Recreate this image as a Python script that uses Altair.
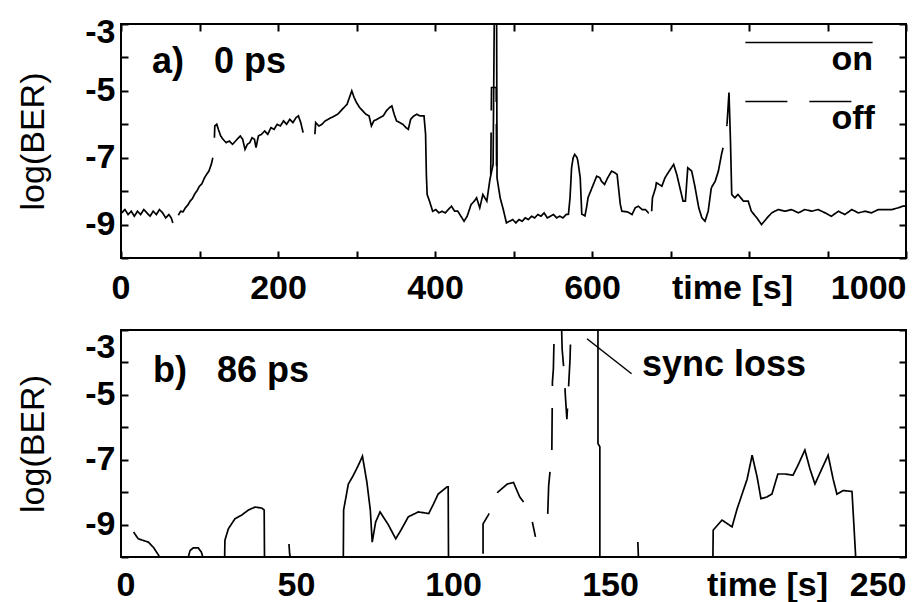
import altair as alt
import pandas as pd

FONT = "Liberation Sans"

# ---------------- panel a) 0 ps : time [s], log10(BER); None = gap in trace
a_on_t = [1, 5, 9, 13, 17, 21, 25, 29, 33, 37, 41, 45, 49, 53, 57, 61, 64, 66, None,
          73, 76, 79, 82, 85, 88, 91, 94, 97, 100, 103, 106, 109, 112, 115, 117, None,
          119, 119.5, 122, 124, 127, 130, 134, 138, 142, 146, 149, 152, 155, 158, 161, 164, 167, 170,
          172, 175, 179, 183, 187, 191, 195, 199, 203, 207, 211, 215, 219, 223, 226, 229, 232, None,
          247, 248, 252, 256, 260, 264, 268, 272, 276, 280, 284, 288, 291, 294, 297, 300, 304, 308,
          312, 316, 319, 322, 326, 330, 334, 338, 342, 345, 348, 351, 355, 359, 363, 366, 369, 373,
          377, 381, 386, 388, 389, 390, 393, 397, 401, 405, 409, 413, 417, 421, 425, 429, 433, 437,
          441, 446, 450, 453, 457, 461, 466, 470, 474, 475.5, 478.5, 479, 483, 487, 491, 495, 499,
          503, 507, 511, 515, 519, 523, 527, 531, 535, 539, 543, 547, 551, 555, 559, 563, 567, 570,
          572, 574, 576, 578, 581, 582, 585, 587, 591, 593, 595, 600, 606, 610, 612, 616, 620, 625,
          629, 632, 636, None,
          676, 677, 681, 682, 689, 693, 697, 704, 708, 712, 716, 719, 722, 727, 731, 736, 740, 744,
          748, 752, None,
          772, 774.5, 776.4, 778, 782, 786, 793, 799, 803, 810, 816, 823, 829, 837, 846, 854, 863,
          871, 880, 888, 897, 905, 914, 922, 931, 939, 948, 956, 965, 973, 982, 990, 996, 1000]
a_on_v = [-8.65, -8.55, -8.7, -8.6, -8.75, -8.6, -8.7, -8.55, -8.65, -8.75, -8.6, -8.7, -8.55, -8.65, -8.8, -8.7, -8.8, -8.95, None,
          -8.72, -8.6, -8.62, -8.5, -8.42, -8.3, -8.22, -8.08, -7.98, -7.85, -7.78, -7.62, -7.5, -7.4, -7.2, -7.0, None,
          -6.4, -6.05, -6.0, -6.15, -6.35, -6.45, -6.55, -6.5, -6.6, -6.5, -6.42, -6.35, -6.45, -6.75, -6.6, -6.55, -6.4, -6.45,
          -6.7, -6.35, -6.3, -6.2, -6.3, -6.1, -6.15, -6.0, -6.05, -5.9, -6.0, -5.85, -5.95, -5.8, -5.75, -5.95, -6.25, None,
          -6.3, -5.95, -6.05, -6.0, -5.9, -5.85, -5.8, -5.75, -5.7, -5.6, -5.5, -5.4, -5.2, -5.0, -5.2, -5.35, -5.5, -5.6,
          -5.7, -5.75, -6.05, -5.9, -5.85, -5.8, -5.75, -5.6, -5.5, -5.45, -5.7, -5.9, -5.95, -6.0, -6.1, -6.15, -5.85, -5.75,
          -5.7, -5.75, -5.75, -6.3, -7.5, -8.1, -8.3, -8.6, -8.55, -8.65, -8.6, -8.65, -8.55, -8.45, -8.6, -8.6, -8.75, -8.9,
          -8.75, -8.4, -8.3, -8.2, -8.5, -8.1, -8.3, -7.65, -7.2, -2.9, -2.9, -7.6, -8.2, -8.55, -8.95, -8.9, -8.85,
          -8.95, -8.85, -8.9, -8.8, -8.85, -8.75, -8.8, -8.7, -8.75, -8.65, -8.8, -8.75, -8.7, -8.8, -8.75, -8.8, -8.7, -8.69,
          -8.2, -7.3, -7.0, -6.9, -7.0, -7.1, -7.6, -8.69, -8.74, -8.5, -8.19, -7.9, -7.55, -7.6, -7.7, -7.8, -7.6, -7.4,
          -7.45, -7.5, -8.39, None,
          -8.6, -8.2, -7.9, -7.75, -7.85, -7.6, -7.45, -7.2, -7.5, -7.9, -8.3, -8.3, -7.3, -7.4, -7.85, -8.5, -8.8, -8.9,
          -8.6, -7.9, None,
          -6.0, -5.05, -6.5, -8.1, -8.2, -8.1, -8.3, -8.3, -8.6, -8.8, -9.0, -8.8, -8.65, -8.55, -8.6, -8.55, -8.65,
          -8.55, -8.6, -8.55, -8.65, -8.75, -8.6, -8.7, -8.55, -8.65, -8.6, -8.65, -8.55, -8.55, -8.55, -8.5, -8.45, -8.45]

a_off_t = [471, 472, 478, 478.5, None,
           636, 638, 645, 651, 655, 659, 664, 668, 672, 676, None,
           752, 757, 761, 765, 769, 772]
a_off_v = [-7.5, -4.9, -4.9, -7.7, None,
           -8.39, -8.6, -8.62, -8.7, -8.5, -8.45, -8.55, -8.55, -8.65, -8.6, None,
           -7.9, -7.7, -7.4, -6.9, -6.5, -6.0]

# ---------------- panel b) 86 ps
b_on_t = [4, 5.5, 8.7, 10.3, 12, 13, None,
          21.3, 22, 23, 24.6, 25.6, 26.2, None,
          33, 33.1, 34.2, 36.3, 38.4, 40.6, 42.7, 44.8, 45.6, 45.7, None,
          53.5, 53.7, 54, None,
          70.8, 70.9, 72.4, 74, 75.6, 76.9, 78.3, 79.4, 80, 81.1, 82.5, 85.1, 87.5, 89.4, 91.5, 94.7,
          98, 99.5, 101, 103.8, 104.2, 104.3, None,
          151.9, 151.9, 152.5, 152.5, None,
          164.6, 164.8, None,
          188.5, 188.6, 191.4, 194.6, 196.2, 197.8, 199.4, 201, 202.6, 203.8, 205.7, 207.3, 209.2,
          211.5, 214, 215.6, 217.8, 219.4, 221, 223.2, 225.2, 226.8, 228, 230, 232.8, 233.4, 234]
b_on_v = [-9.23, -9.44, -9.54, -9.7, -9.95, -10.2, None,
          -10.05, -9.8, -9.72, -9.72, -9.85, -10.05, None,
          -10.05, -9.48, -9.13, -8.82, -8.71, -8.55, -8.46, -8.49, -8.55, -10.05, None,
          -9.6, -9.9, -10.05, None,
          -10.05, -8.55, -7.75, -7.48, -7.17, -6.89, -7.69, -8.55, -9.54, -8.92, -8.61, -9.0, -9.44, -9.13, -8.76, -8.61,
          -8.66, -8.37, -8.06, -7.84, -7.84, -10.05, None,
          -2.9, -6.5, -6.6, -10.05, None,
          -9.54, -10.05, None,
          -10.05, -9.17, -8.86, -9.07, -8.52, -8.06, -7.6, -6.86, -7.54, -8.2, -8.15, -8.06, -7.44,
          -7.44, -7.48, -7.17, -6.7, -7.28, -7.75, -7.28, -6.86, -7.6, -8.06, -7.95, -7.98, -9.0, -10.05]

b_off_t = [115.3, 115.3, 117, 119, 120, 123, 125, 127, 129, 131, 132, None,
           135.9, 136.2, 137.2, 137.4, 137.7, 138, 140.3, 140.5, 141.2, 141.5, 142, 143, 143.3]
b_off_v = [-9.9, -8.98, -8.7, -8.3, -8.0, -7.75, -7.7, -8.15, -8.4, -8.92, -9.38, None,
           -8.67, -7.8, -6.8, -4.6, -4.2, -2.9, -2.9, -3.6, -4.4, -5.0, -5.75, -3.9, -2.9]

# ---------------- annotations
NB = "\u00a0"
a_text = ["a)" + NB * 3 + "0 ps"]
a_text_t = [39.5]
a_text_v = [-4.47]
b_text = ["b)" + NB * 3 + "86 ps", "sync loss"]
b_text_t = [10.2, 165.9]
b_text_v = [-4.6, -4.42]
b_pointer_t = [148.4, 162.6]
b_pointer_v = [-3.27, -4.35]

# ---------------- axes
a_x_ticks = list(range(0, 1001, 100))
a_x_labels = {0: "0", 200: "200", 400: "400", 600: "600", 800: "time [s]", 1000: "1000"}
b_x_ticks = [0, 50, 100, 150, 200, 250]
b_x_labels = {0: "0", 50: "50", 100: "100", 150: "150", 200: "time [s]", 250: "250"}
y_ticks = list(range(-10, -2))
y_labels = {-3: "-3", -5: "-5", -7: "-7", -9: "-9"}
series_names = ["on", "off"]


def label_expr(mapping):
    expr = "''"
    for k, s in mapping.items():
        expr = f"datum.value == {k} ? '{s}' : ({expr})"
    return expr


def build(pairs):
    rows = []
    i = 0
    for series, ts, vs in pairs:
        seg = 0
        for t, v in zip(ts, vs):
            if v is None:
                seg += 1
                continue
            rows.append({"t": t, "v": v, "series": series, "seg": f"{series}-{seg}", "i": i})
            i += 1
    return pd.DataFrame(rows)


df_a = build([("on", a_on_t, a_on_v), ("off", a_off_t, a_off_v)])
df_b = build([("on", b_on_t, b_on_v), ("off", b_off_t, b_off_v)])
txt_a = pd.DataFrame({"t": a_text_t, "v": a_text_v, "label": a_text})
txt_b = pd.DataFrame({"t": b_text_t, "v": b_text_v, "label": b_text})
ptr_b = pd.DataFrame({"t": b_pointer_t, "v": b_pointer_v, "i": [0, 1]})

common = dict(grid=False, domain=False, tickColor="black", tickWidth=2,
              labelColor="black", labelFont=FONT, labelFontSize=34, labelFontWeight="bold")


def panel(df, txt, xdom, xvals, xlabels, w, h, x_ticks_on, legend, y_flush_off, x_label_shift, ptr=None):
    xs = alt.Scale(domain=xdom, nice=False, zero=False)
    ys = alt.Scale(domain=[-10, -3], nice=False, zero=False)
    if x_ticks_on:
        x_main = alt.Axis(orient="bottom", values=xvals, labelExpr=label_expr(xlabels), title=None,
                          ticks=True, tickSize=7, offset=-7, labelPadding=13, labelFlush=True,
                          labelOffset=x_label_shift, **common)
        x_top = alt.Axis(orient="top", values=xvals, labels=False, title=None,
                         ticks=True, tickSize=7, offset=-7, **common)
    else:
        x_main = alt.Axis(orient="bottom", values=xvals, labelExpr=label_expr(xlabels), title=None,
                          ticks=False, tickSize=0, labelPadding=11, labelFlush=True,
                          labelOffset=x_label_shift, **common)
        x_top = None
    y_main = alt.Axis(orient="left", values=y_ticks, labelExpr=label_expr(y_labels), title="log(BER)",
                      titleFont=FONT, titleFontSize=34, titleFontWeight="normal", titleColor="black",
                      titlePadding=34, tickSize=7, offset=-7, labelPadding=6, labelFlush=True,
                      labelFlushOffset=y_flush_off, **common)
    y_right = alt.Axis(orient="right", values=y_ticks, labels=False, title=None,
                       tickSize=7, offset=-7, **common)

    lines = alt.Chart(df).mark_line(color="black", strokeWidth=1.7, clip=True).encode(
        x=alt.X("t:Q", scale=xs, axis=x_main),
        y=alt.Y("v:Q", scale=ys, axis=y_main),
        strokeDash=alt.StrokeDash("series:N", scale=alt.Scale(domain=series_names, range=[[1, 0], [42, 22]]),
                                  legend=legend),
        detail="seg:N",
        order="i:Q",
    )
    texts = alt.Chart(txt).mark_text(align="left", baseline="alphabetic", font=FONT, fontSize=36,
                                     fontWeight="bold", color="black").encode(
        x=alt.X("t:Q", scale=xs, axis=x_top),
        y=alt.Y("v:Q", scale=ys, axis=y_right),
        text="label:N",
    )
    layers = [lines, texts]
    if ptr is not None:
        layers.append(alt.Chart(ptr).mark_line(color="black", strokeWidth=1.5).encode(
            x=alt.X("t:Q", scale=xs, axis=None),
            y=alt.Y("v:Q", scale=ys, axis=None),
            order="i:Q",
        ))
    return alt.layer(*layers).resolve_axis(x="independent", y="independent").properties(width=w, height=h)


legend_a = alt.Legend(title=None, orient="none", legendX=660, legendY=-4,
                      symbolType="M-3,0H3", symbolSize=1800, symbolStrokeWidth=1.7,
                      symbolStrokeColor="black", symbolOffset=5.5,
                      labelFont=FONT, labelFontSize=34, labelFontWeight="bold",
                      labelColor="black", labelBaseline="top", labelOffset=0, padding=0, rowPadding=2)

shift_a = {"condition": [{"test": "datum.value == 800", "value": -17},
                         {"test": "datum.value == 0", "value": -10}], "value": 0}
shift_b = {"condition": [{"test": "datum.value > 0 && datum.value < 250", "value": 18},
                         {"test": "datum.value == 0", "value": -5}], "value": 0}

pa = panel(df_a, txt_a, [0, 1000], a_x_ticks, a_x_labels, 785, 234, True, legend_a, 9, shift_a)
pb = panel(df_b, txt_b, [0, 250], b_x_ticks, b_x_labels, 785, 227, False, None, 0, shift_b, ptr=ptr_b)

chart = alt.vconcat(pa, pb, spacing=22).resolve_scale(
    x="independent", y="independent", strokeDash="independent"
).resolve_legend(strokeDash="independent").configure_view(
    stroke="black", strokeWidth=2
).properties(padding={"left": 7, "top": 6, "right": 5, "bottom": 0}, background="white")

chart.save("out.html", embed_options={"renderer": "svg", "actions": False})
